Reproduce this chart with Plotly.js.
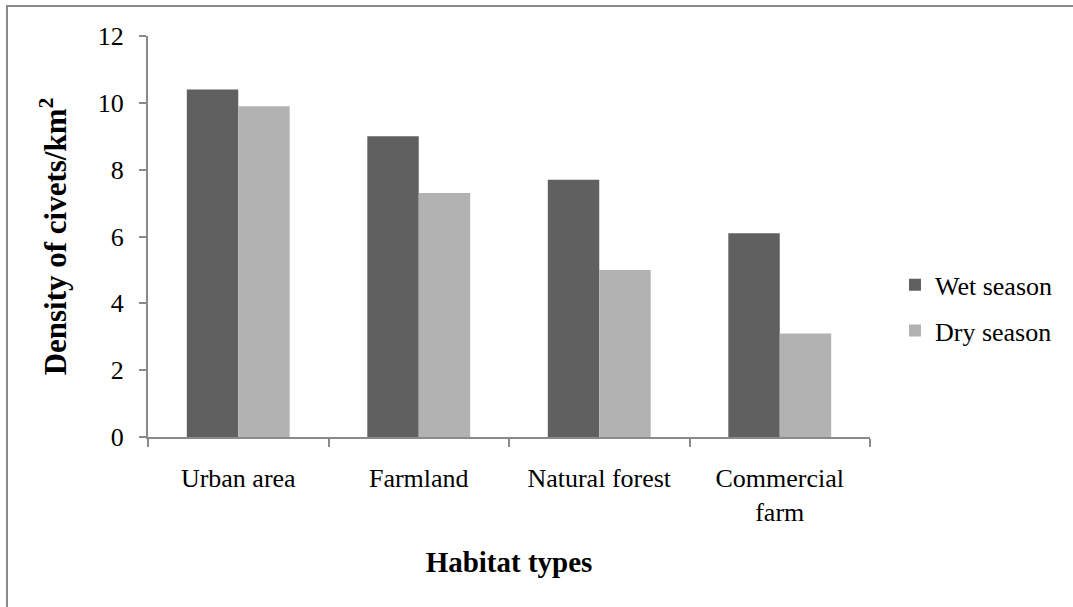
<!DOCTYPE html>
<html>
<head>
<meta charset="utf-8">
<script src="https://cdn.plot.ly/plotly-3.0.1.min.js"></script>
<style>
html, body { margin: 0; padding: 0; background: #fff; }
#chart { width: 1073px; height: 607px; }
</style>
</head>
<body>
<div id="chart"></div>
<script>
const categories = ["Urban area", "Farmland", "Natural forest", "Commercial<br>farm"];
const wetSeason = [10.4, 9.0, 7.7, 6.1];
const drySeason = [9.9, 7.3, 5.0, 3.1];
const seriesNames = ["Wet season", "Dry season"];
const yTicks = [0, 2, 4, 6, 8, 10, 12];

const serif = "Liberation Serif";
const axisGray = "#8a8a8a";

const traces = [
  {
    type: "bar", name: seriesNames[0], x: categories, y: wetSeason,
    marker: { color: "#606060" }, legendgroup: "a", hoverinfo: "x+y"
  },
  {
    type: "bar", name: seriesNames[1], x: categories, y: drySeason,
    marker: { color: "#b2b2b2" }, legendgroup: "b", hoverinfo: "x+y"
  }
];

const layout = {
  width: 1073, height: 607,
  margin: { l: 148, r: 203, t: 36, b: 170 },
  paper_bgcolor: "#ffffff", plot_bgcolor: "#ffffff",
  font: { family: serif, size: 26, color: "#000000" },
  barmode: "group", bargap: 0.43, bargroupgap: 0,
  showlegend: true,
  legend: {
    x: 1.0346, xanchor: "left", y: 0.322, yanchor: "middle",
    traceorder: "grouped", tracegroupgap: 9,
    font: { family: serif, size: 26, color: "#000" },
    bgcolor: "rgba(0,0,0,0)"
  },
  xaxis: {
    type: "category",
    showline: true, linecolor: axisGray, linewidth: 2,
    ticks: "outside", tickson: "boundaries", ticklen: 8, tickwidth: 2, tickcolor: axisGray,
    showgrid: false, zeroline: false,
    tickfont: { family: serif, size: 26, color: "#000" },
    ticklabelstandoff: 17,
    title: { text: "<b>Habitat types</b>", font: { family: serif, size: 29, color: "#000" }, standoff: 26 },
    fixedrange: true
  },
  yaxis: {
    range: [0, 12], tickvals: yTicks, ticktext: yTicks.map(String),
    showline: true, linecolor: axisGray, linewidth: 2,
    ticks: "outside", ticklen: 7, tickwidth: 2, tickcolor: axisGray,
    showgrid: false, zeroline: false,
    tickfont: { family: serif, size: 26, color: "#000" },
    ticklabelstandoff: 10,
    title: { text: "<b>Density of civets/km<sup>2</sup></b>", font: { family: serif, size: 31, color: "#000" }, standoff: 22 },
    fixedrange: true
  },
  shapes: [
    {
      type: "rect", xref: "paper", yref: "paper",
      x0: -0.1953, x1: 1.6, y0: -1, y1: 1.0748,
      line: { color: axisGray, width: 2 }, fillcolor: "rgba(0,0,0,0)", layer: "above"
    }
  ]
};

Plotly.newPlot("chart", traces, layout, { displayModeBar: false, staticPlot: true });
</script>
</body>
</html>
